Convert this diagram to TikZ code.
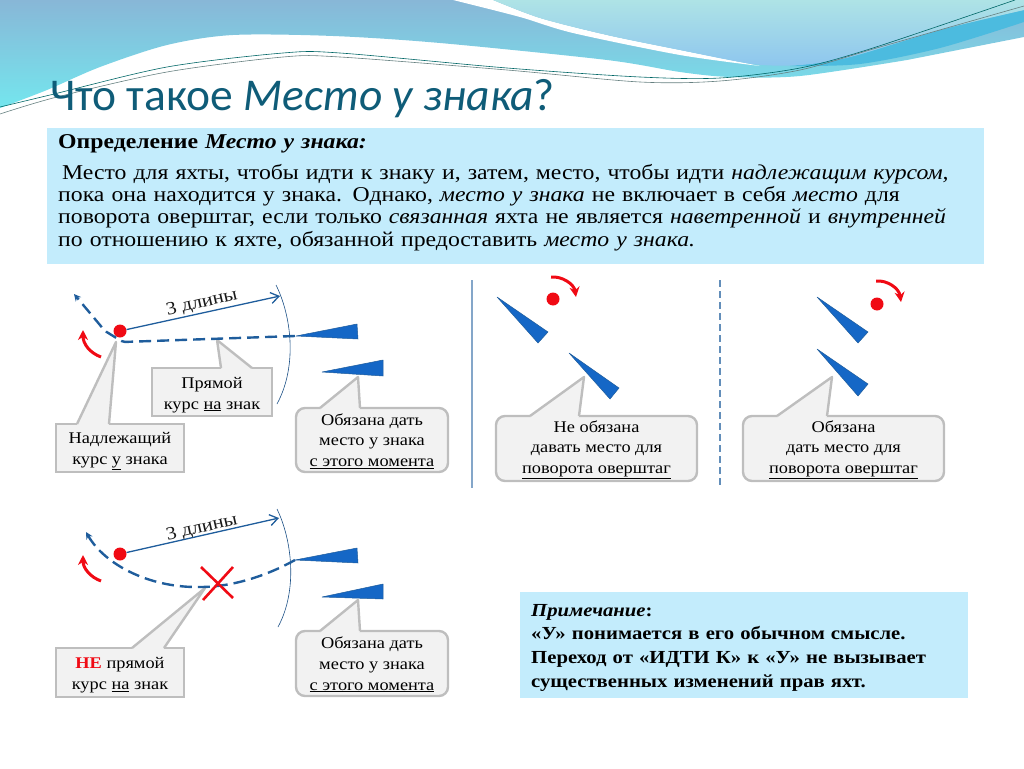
\documentclass[tikz,border=0pt]{standalone}
\usepackage{fontspec}
\setmainfont[FakeStretch=1.125]{Liberation Serif}
\newfontfamily\titlefont{Carlito}
\usepackage{xcolor}
\usetikzlibrary{arrows.meta,positioning,calc}
\definecolor{boxblue}{HTML}{C3ECFC}
\definecolor{boatblue}{HTML}{1567C6}
\definecolor{courseblue}{HTML}{1F5D9C}
\definecolor{titleteal}{HTML}{0F5C78}
\definecolor{callfill}{HTML}{F2F2F2}
\definecolor{callline}{HTML}{BEBEBE}
\definecolor{turnred}{HTML}{F00A14}
\definecolor{wavetop}{HTML}{88B7D7}
\definecolor{wavemid}{HTML}{79DBE9}
\definecolor{wavelow}{HTML}{74E6EE}
\definecolor{paletop}{HTML}{AEE3E6}
\definecolor{palelow}{HTML}{8EC6EE}
\definecolor{bandblue}{HTML}{4CBBDF}
\newcommand{\callpoint}[4]{%
  \coordinate (pa) at (#2,0 |- #1.north);
  \coordinate (pb) at (#3,0 |- #1.north);
  \fill[callfill] (pa) -- (#4) -- (pb) -- ($(pb)+(-1,2)$) -- ($(pa)+(1,2)$) -- cycle;
  \draw[callline,line width=2.4pt,line join=round] (pa) -- (#4) -- (pb);}
\newcommand{\gaptwo}{\rule{0pt}{17pt}}
\newcommand{\gapthree}{\rule{0pt}{14pt}}
\begin{document}
\begin{tikzpicture}[x=1pt,y=-1pt,
  callsq/.style={draw=callline,fill=callfill,line width=2.4pt,inner sep=0pt,outer sep=0pt,align=center,font=\fontsize{16.3}{20.6}\selectfont},
  callrd/.style={callsq,rounded corners=9pt},
  infobox/.style={fill=boxblue,inner sep=0pt,outer sep=0pt},
  infotext/.style={anchor=north west,inner sep=0pt,align=left},
  yacht/.style={fill=boatblue,draw=courseblue,line width=.5pt,line join=round},
  buoy/.style={circle,fill=turnred,inner sep=0pt,minimum size=13pt},
  course/.style={draw=courseblue,line width=2.4pt,dash pattern=on 12pt off 6pt,-{Stealth[length=7pt,width=7pt]}},
  lay/.style={draw=courseblue,line width=1.3pt,-{Straight Barb[length=8pt,width=11pt]}},
  zone/.style={draw=courseblue!85!black,line width=.6pt},
  turn/.style={draw=turnred,line width=3pt,-{Stealth[length=10pt,width=10pt]}},
  lenlab/.style={rotate=13,font=\fontsize{18.4}{18.4}\selectfont,text=black!90}]
\useasboundingbox (0,0) rectangle (1024,768);
\shade[top color=wavetop,middle color=wavemid,bottom color=wavelow]
  (0,0) -- (1024,0) -- (1024,37) -- plot[smooth] coordinates {(907,60) (800,76) (730,77) (680,72) (607,60) (440,43) (333,36) (233,35) (167,45) (100,67) (47,90) (0,108)} -- cycle;
\fill[white] (453,0) -- plot[smooth] coordinates {(453,0) (520,17) (573,33) (680,55) (760,66)} -- plot[smooth] coordinates {(760,66) (680,50) (607,35) (540,18) (493,0)} -- cycle;
\fill[bandblue] (790,66) -- plot[smooth] coordinates {(790,66) (850,57) (940,30) (1024,10)} -- (1024,22) -- plot[smooth] coordinates {(1024,22) (940,48) (860,64) (790,66)} -- cycle;
\shade[top color=paletop,bottom color=palelow]
  (493,0) -- plot[smooth] coordinates {(493,0) (540,18) (607,35) (680,50) (753,64) (800,65) (850,57) (940,30) (1024,10)} -- (1024,0) -- cycle;
\draw[teal!80!black,line width=.6pt] plot[smooth] coordinates {(0,107) (50,95) (167,67) (283,53) (340,53) (507,68) (640,77) (720,78) (800,68) (873,48) (1015,0)};
\draw[gray!80!teal,line width=.6pt] plot[smooth] coordinates {(0,114) (57,97) (167,72) (283,57) (340,57) (507,70) (640,82) (720,81) (800,70) (880,47) (1024,6)};
\node[anchor=base west,inner sep=0pt,text=titleteal,font=\titlefont\fontsize{45.5}{45.5}\selectfont] (title) at (50,110) {Что такое \textit{Место у знака}?};
\node[infobox,anchor=north west,minimum width=937pt,minimum height=136pt] (defbox) at (47,128) {};
\node[infotext,text width=925pt,font=\fontsize{21.1}{22.3}\selectfont] (deftext) at ($(defbox.north west)+(11,6)$)
  {\textbf{Определение \textit{Место у знака:}}\\[8.7pt]
  \hspace{4pt}Место для яхты, чтобы идти к знаку и, затем, место, чтобы идти \textit{надлежащим курсом,}\\
  пока она находится у знака. Однако, \textit{место у знака} не включает в себя \textit{место} для\\
  поворота оверштаг, если только \textit{связанная} яхта не является \textit{наветренной} и \textit{внутренней}\\
  по отношению к яхте, обязанной предоставить \textit{место у знака.}};
\node[infobox,anchor=north west,minimum width=448pt,minimum height=106pt] (notebox) at (520,592) {};
\node[infotext,text width=430pt,font=\fontsize{18.4}{23.6}\selectfont\bfseries] (notetext) at ($(notebox.north west)+(11,12)$)
  {\textit{Примечание}:\\
  «У» понимается в его обычном смысле.\\
  Переход от «ИДТИ К» к «У» не вызывает\\
  существенных изменений прав яхт.};
\draw[line width=2pt,draw=courseblue!55!white] (472,280) -- (472,488);
\draw[line width=1.6pt,draw=courseblue!70!white,dash pattern=on 7pt off 4pt] (720,280) -- (720,488);
\node[callsq,minimum width=128pt,minimum height=48pt] (goodA) at (120,448) {\gaptwo Надлежащий\\курс \underline{у} знака};
\node[callsq,minimum width=120pt,minimum height=48pt] (directA) at (212,392) {\gaptwo Прямой\\курс \underline{на} знак};
\node[callrd,minimum width=152pt,minimum height=64pt] (oweA) at (372,440) {\gapthree Обязана дать\\место у знака\\\underline{с этого момента}};
\node[callrd,minimum width=201pt,minimum height=65pt] (freeB) at (596.5,448.5) {\gapthree Не обязана\\давать место для\\\underline{поворота оверштаг}};
\node[callrd,minimum width=201pt,minimum height=65pt] (oweC) at (843.5,448.5) {\gapthree Обязана\\дать место для\\\underline{поворота оверштаг}};
\node[callsq,minimum width=128pt,minimum height=49pt] (notD) at (120,672.5) {\gaptwo\textcolor{turnred}{\textbf{НЕ}} прямой\\курс \underline{на} знак};
\node[callrd,minimum width=152pt,minimum height=65pt] (oweD) at (372,663.5) {\gapthree Обязана дать\\место у знака\\\underline{с этого момента}};
\coordinate (tipgood) at (116,342);
\coordinate (tipdirect) at (217,340);
\coordinate (tipowea) at (358,377);
\coordinate (tipfree) at (584,377);
\coordinate (tipowec) at (832,377);
\coordinate (tipnot) at (205,588);
\coordinate (tipowed) at (358,600);
\callpoint{goodA}{77}{109}{tipgood}
\callpoint{directA}{221}{252}{tipdirect}
\callpoint{oweA}{320}{360}{tipowea}
\callpoint{freeB}{530}{579}{tipfree}
\callpoint{oweC}{777}{827}{tipowec}
\callpoint{notD}{132}{164}{tipnot}
\callpoint{oweD}{320}{360}{tipowed}
\filldraw[yacht] (296,336) -- (357,324) -- (358,339) -- cycle;
\filldraw[yacht] (322,372) -- (383,360) -- (383,376) -- cycle;
\filldraw[yacht] (497,297) -- (548,332) -- (538,343) -- cycle;
\filldraw[yacht] (569,353) -- (619,388) -- (610,399) -- cycle;
\filldraw[yacht] (817,297) -- (868,332) -- (858,343) -- cycle;
\filldraw[yacht] (817,349) -- (868,384) -- (858,396) -- cycle;
\filldraw[yacht] (295,560) -- (357,548) -- (358,563) -- cycle;
\filldraw[yacht] (322,597) -- (383,584) -- (383,599) -- cycle;
\node[buoy] (buoyA) at (120,331) {};
\node[buoy] (buoyB) at (553,299) {};
\node[buoy] (buoyC) at (877,304) {};
\node[buoy] (buoyD) at (120,554) {};
\coordinate (endA) at (280,296);
\coordinate (endD) at (279,518);
\draw[lay] (buoyA) -- (endA);
\draw[lay] (buoyD) -- (endD);
\node[lenlab] (lenA) at (202,303) {3 длины};
\node[lenlab] (lenD) at (202,528) {3 длины};
\draw[zone] (276,285) .. controls (291,315) and (298,365) .. (277,404);
\draw[zone] (277,509) .. controls (292,540) and (298,590) .. (278,627);
\draw[course,rounded corners=2pt] (295,336) -- (123,342) -- (105,331) -- (74,294);
\draw[course] (295,560) .. controls (270,574) and (235,587) .. (200,587) .. controls (150,588) and (105,565) .. (86,532);
\draw[turn] (101,357) .. controls (90,353) and (83,344) .. (83,330);
\draw[turn] (101,581) .. controls (90,577) and (83,568) .. (83,555);
\draw[turn] (551,277) .. controls (562,276) and (574,284) .. (576,297);
\draw[turn] (876,281) .. controls (887,280) and (899,288) .. (901,302);
\draw[draw=turnred,line width=2.6pt] (201,567) -- (233,598) (233,567) -- (203,600);
\end{tikzpicture}
\end{document}
